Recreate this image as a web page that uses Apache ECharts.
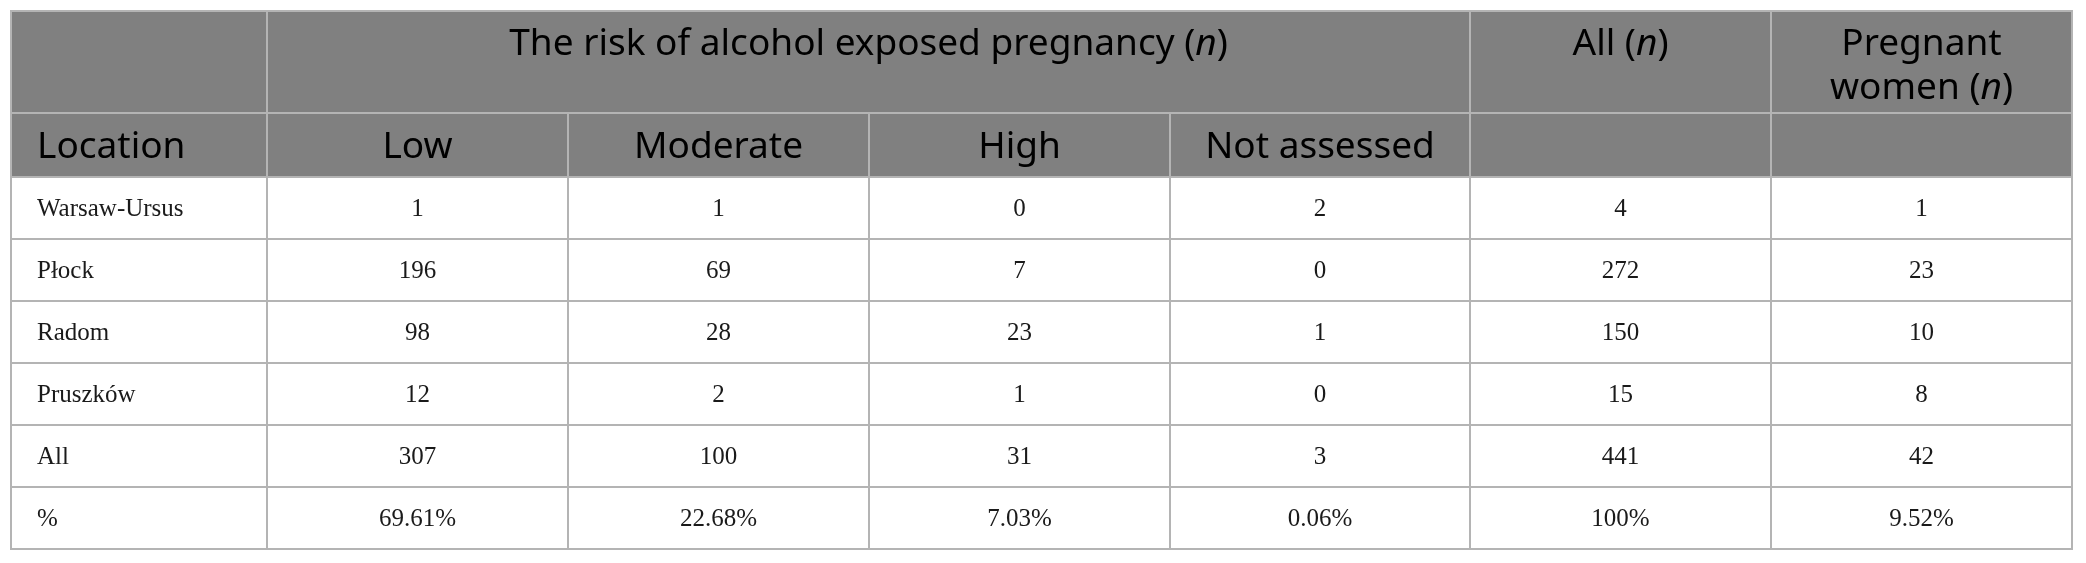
<!DOCTYPE html>
<html>
<head>
<meta charset="utf-8">
<script src="https://cdn.jsdelivr.net/npm/echarts@6/dist/echarts.min.js"></script>
<style>
  html, body { margin: 0; padding: 0; background: #fff; }
  #chart { width: 2086px; height: 563px; }
</style>
</head>
<body>
<div id="chart"></div>
<script>
// table content
var groupTitle = 'The risk of alcohol exposed pregnancy';
var riskLevels = ['Low', 'Moderate', 'High', 'Not assessed'];
var locations = ['Warsaw-Ursus', 'Płock', 'Radom', 'Pruszków', 'All', '%'];
var lowRisk = ['1', '196', '98', '12', '307', '69.61%'];
var moderateRisk = ['1', '69', '28', '2', '100', '22.68%'];
var highRisk = ['0', '7', '23', '1', '31', '7.03%'];
var notAssessed = ['2', '0', '1', '0', '3', '0.06%'];
var allN = ['4', '272', '150', '15', '441', '100%'];
var pregnantN = ['1', '23', '10', '8', '42', '9.52%'];

// layout (px units on the hidden value axes)
var colW = [256, 301, 301, 301, 300, 301, 301];
var rowH = [102, 64, 62, 62, 62, 62, 62, 62];
var colX = [0];
colW.forEach(function (w, i) { colX.push(colX[i] + w); });
var rowY = [0];
rowH.forEach(function (h, i) { rowY.push(rowY[i] + h); });
var totalW = colX[colX.length - 1];
var totalH = rowY[rowY.length - 1];

var headBg = '#808080';
var lineColor = '#b4b4b4';
var sansFont = '"Noto Sans", "Open Sans", sans-serif';
var serifFont = '"Liberation Serif", "DejaVu Serif", serif';

// cell list: [col, colSpan, row, rowSpan, text, kind, align]
var cells = [];
cells.push([0, 1, 0, 1, '', 'head', 'left']);
cells.push([1, 4, 0, 1, 'title', 'headTop', 'center']);
cells.push([5, 1, 0, 1, 'all', 'headTop', 'center']);
cells.push([6, 1, 0, 1, 'preg', 'headTop', 'center']);
cells.push([0, 1, 1, 1, 'Location', 'head', 'left']);
riskLevels.forEach(function (r, i) { cells.push([i + 1, 1, 1, 1, r, 'head', 'center']); });
cells.push([5, 1, 1, 1, '', 'head', 'center']);
cells.push([6, 1, 1, 1, '', 'head', 'center']);
var bodyCols = [lowRisk, moderateRisk, highRisk, notAssessed, allN, pregnantN];
locations.forEach(function (loc, r) {
  cells.push([0, 1, r + 2, 1, loc, 'body', 'left']);
  bodyCols.forEach(function (col, c) {
    cells.push([c + 1, 1, r + 2, 1, col[r], 'body', 'center']);
  });
});

var richHead = {
  t: { fontFamily: sansFont, fontSize: 37, color: '#fff', lineHeight: 44 },
  i: { fontFamily: sansFont, fontSize: 37, color: '#fff', fontStyle: 'italic', lineHeight: 44 }
};

function headText(key, text) {
  if (key === 'title') return '{t|' + groupTitle + ' (}{i|n}{t|)}';
  if (key === 'all') return '{t|All (}{i|n}{t|)}';
  if (key === 'preg') return '{t|Pregnant}\n{t|women (}{i|n}{t|)}';
  return '{t|' + text + '}';
}

function renderCell(params, api) {
  var c = api.value(0), cs = api.value(1), r = api.value(2), rs = api.value(3);
  var d = cells[params.dataIndex];
  var p0 = api.coord([colX[c], rowY[r]]);
  var p1 = api.coord([colX[c + cs], rowY[r + rs]]);
  var x = p0[0], y = p0[1], w = p1[0] - p0[0], h = p1[1] - p0[1];
  var isHead = d[5] !== 'body';
  var tx = d[6] === 'left' ? x + 26 : x + w / 2;
  var children = [{
    type: 'rect',
    shape: { x: x, y: y, width: w, height: h },
    style: { fill: isHead ? headBg : '#fff', stroke: lineColor, lineWidth: 2 }
  }];
  if (d[4] !== '') {
    var style;
    if (isHead) {
      style = {
        text: headText(d[4], d[4]),
        rich: richHead,
        x: tx,
        y: d[5] === 'headTop' ? y + 11 : y + h / 2 + 2,
        align: d[6],
        verticalAlign: d[5] === 'headTop' ? 'top' : 'middle'
      };
    } else {
      style = {
        text: d[4],
        x: tx,
        y: y + h / 2 + 1,
        align: d[6],
        verticalAlign: 'middle',
        fontFamily: serifFont,
        fontSize: 25,
        fill: '#1a1a1a'
      };
    }
    children.push({ type: 'text', style: style });
  }
  return { type: 'group', children: children };
}

var chart = echarts.init(document.getElementById('chart'));
chart.setOption({
  animation: false,
  grid: { left: 11, top: 11, width: totalW, height: totalH },
  xAxis: { type: 'value', min: 0, max: totalW, show: false },
  yAxis: { type: 'value', min: 0, max: totalH, inverse: true, show: false },
  series: [{
    type: 'custom',
    renderItem: renderCell,
    encode: { x: 0, y: 2 },
    data: cells.map(function (d) { return [d[0], d[1], d[2], d[3]]; })
  }]
});
</script>
</body>
</html>
